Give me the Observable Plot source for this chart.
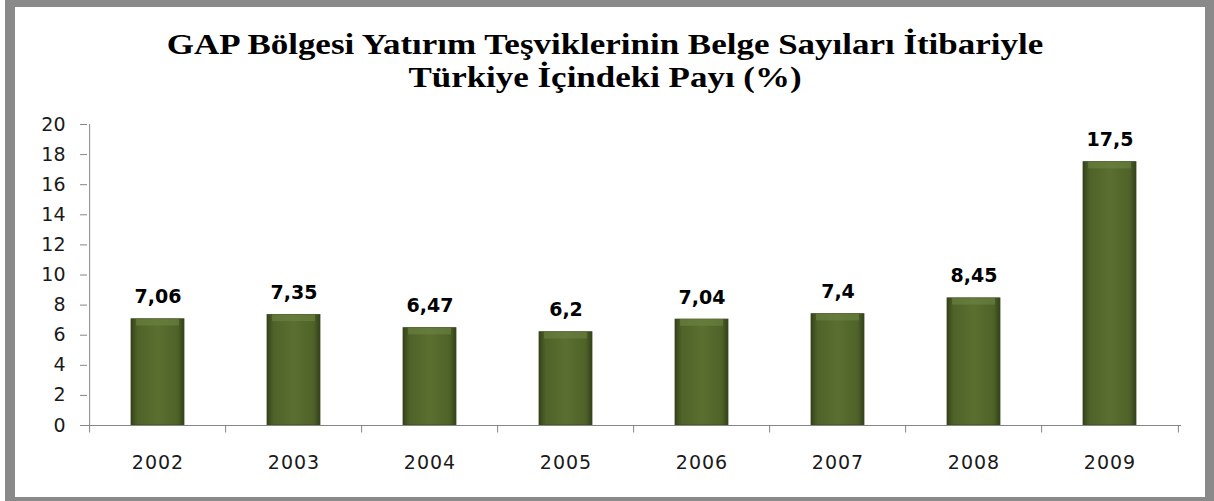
<!DOCTYPE html>
<html>
<head>
<meta charset="utf-8">
<script src="https://cdn.jsdelivr.net/npm/d3@7"></script>
<script src="https://cdn.jsdelivr.net/npm/@observablehq/plot@0.6"></script>
<style>
  html, body { margin: 0; padding: 0; background: #fff; }
  #frame {
    position: absolute; left: 5px; top: 0; width: 1209px; height: 501px;
    box-sizing: border-box; border: solid #8a8a8a; border-width: 7px 9px 4px 10px;
    background: #fff;
  }
  #title {
    position: absolute; left: -2px; top: 27px; width: 1214px; text-align: center;
    font-family: "Liberation Serif", "Times New Roman", serif; font-weight: bold;
    font-size: 30px; line-height: 33px; color: #000;
    transform: scaleX(1.165); transform-origin: 50% 50%;
  }
  #chart { position: absolute; left: 0; top: 100px; }
  #chart .xlab text { letter-spacing: 1px; }
</style>
</head>
<body>
<div id="frame"></div>
<div id="title">GAP Bölgesi Yatırım Teşviklerinin Belge Sayıları İtibariyle<br>Türkiye İçindeki Payı (%)</div>
<div id="chart"></div>
<script>
const years = ["2002", "2003", "2004", "2005", "2006", "2007", "2008", "2009"];
const values = [7.06, 7.35, 6.47, 6.2, 7.04, 7.4, 8.45, 17.5];
const valueLabels = ["7,06", "7,35", "6,47", "6,2", "7,04", "7,4", "8,45", "17,5"];
const yTicks = [0, 2, 4, 6, 8, 10, 12, 14, 16, 18, 20];

const data = years.map((y, i) => ({year: y, value: values[i], label: valueLabels[i]}));

const W = 1214, H = 390, mL = 87, mR = 33, mT = 24, mB = 65;
const step = (W - mL - mR) / years.length;

const plot = Plot.plot({
  width: W, height: H,
  marginLeft: mL, marginRight: mR, marginTop: mT, marginBottom: mB,
  style: {fontFamily: "'DejaVu Sans', sans-serif", background: "transparent", overflow: "visible"},
  x: {domain: years, paddingInner: 0.61, paddingOuter: 0.305, label: null},
  y: {domain: [0, 20], label: null},
  marks: [
    () => {
      const svg = d3.create("svg:defs");
      const g = svg.append("linearGradient").attr("id", "barGrad").attr("x1", 0).attr("x2", 1).attr("y1", 0).attr("y2", 0);
      g.append("stop").attr("offset", "0%").attr("stop-color", "#34421a");
      g.append("stop").attr("offset", "12%").attr("stop-color", "#4f6228");
      g.append("stop").attr("offset", "50%").attr("stop-color", "#5a6f30");
      g.append("stop").attr("offset", "88%").attr("stop-color", "#4f6228");
      g.append("stop").attr("offset", "100%").attr("stop-color", "#34421a");
      return svg.node();
    },
    Plot.barY(data, {x: "year", y: "value", fill: "url(#barGrad)", stroke: "#3a4a1c", strokeWidth: 0.8}),
    Plot.barY(data, {x: "year", y1: d => d.value, y2: d => d.value - 0.45, fill: "#6f8745", fillOpacity: 0.55, insetLeft: 5, insetRight: 5}),
    Plot.ruleY([0], {stroke: "#868686", strokeWidth: 1}),
    Plot.ruleX([0], {x: () => years[0], y1: 0, y2: 20, dx: -step / 2, stroke: "#868686"}),
    Plot.ruleX(years, {x: d => d, y1: 0, y2: -0.5, dx: -step / 2, stroke: "#868686"}),
    Plot.ruleX([years[years.length - 1]], {x: d => d, y1: 0, y2: -0.5, dx: step / 2, stroke: "#868686"}),
    Plot.axisY(yTicks, {tickSize: 7, tickPadding: 15, fontSize: 19, stroke: "#868686", fill: "#1a1a1a", tickFormat: d => String(d)}),
    Plot.axisX(years, {tickSize: 0, tickPadding: 30, fontSize: 19, fill: "#1a1a1a", className: "xlab"}),
    Plot.text(data, {x: "year", y: "value", text: "label", dy: -22, fontSize: 19, fontWeight: "bold", fill: "#000"})
  ]
});
document.getElementById("chart").appendChild(plot);
</script>
</body>
</html>
